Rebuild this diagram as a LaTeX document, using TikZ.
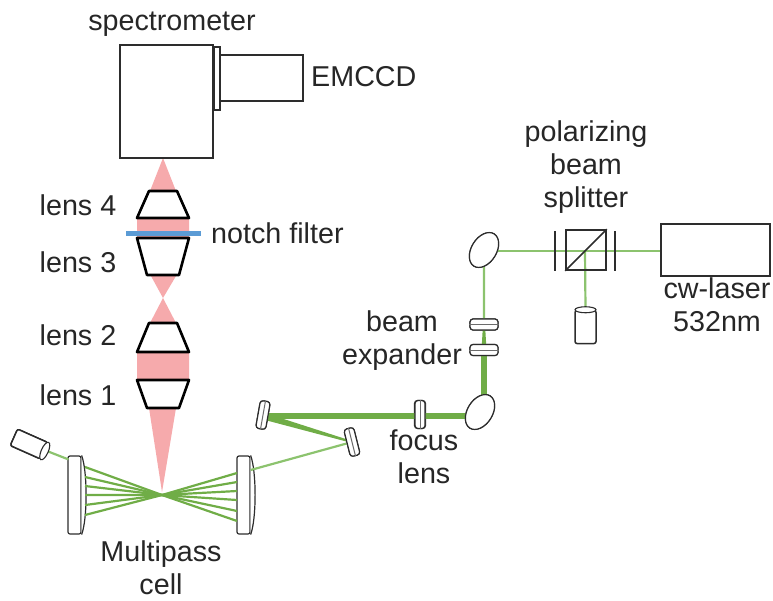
\documentclass[tikz,border=0pt]{standalone}
\usepackage{fontspec}
\setmainfont{Liberation Sans}
\usepackage{xcolor}
\usetikzlibrary{shapes.geometric}
\definecolor{beamgreen}{RGB}{112, 173, 71}
\definecolor{beamthin}{RGB}{140, 195, 110}
\definecolor{pinklight}{RGB}{246, 170, 172}
\definecolor{notchblue}{RGB}{91, 155, 213}
\definecolor{edgegray}{RGB}{45, 45, 45}

\begin{document}
\begin{tikzpicture}[
  x=1pt, y=-1pt,
  lbl/.style={font=\fontsize{28.7}{33}\selectfont, align=center, color=black!85, inner sep=0pt},
  box/.style={rectangle, draw=edgegray, line width=1.6pt, inner sep=0pt, fill=white},
  lensbody/.style={draw=black, fill=white, line width=2.6pt, line join=round},
  beam/.style={color=beamthin, line width=2.2pt},
  passbeam/.style={color=beamgreen, line width=2.2pt},
  fatbeam/.style={color=beamgreen, line width=6pt},
  mirror/.style={ellipse, draw=edgegray, line width=1.2pt, fill=white, inner sep=0pt,
                 minimum width=38pt, minimum height=25pt, rotate=58},
  optic/.style={rectangle, rounded corners=3pt, draw=edgegray, line width=1.2pt, fill=white, inner sep=0pt},
  foldlens/.style={optic, minimum width=10pt, minimum height=28pt},
  explens/.style={optic, minimum width=28pt, minimum height=11pt},
  cell/.style={rectangle, rounded corners=2pt, draw=edgegray, line width=1.2pt, fill=white, inner sep=0pt,
               minimum width=13pt, minimum height=78pt},
  cyl/.style={box, line width=1.5pt, rounded corners=2pt},
  capend/.style={ellipse, draw=edgegray, fill=white, line width=1.1pt, inner sep=0pt}
]
  \useasboundingbox (0,0) rectangle (773,600);

  % collected light
  \fill[pinklight] (163,158) -- (176,191) -- (189,218) -- (189,238) -- (180,275) -- (176,276)
    -- (163,298) -- (176,323) -- (189,352) -- (189,380) -- (176,408) -- (162,492)
    -- (149,408) -- (137,380) -- (137,352) -- (150,323) -- (163,298) -- (151,276) -- (147,275)
    -- (137,238) -- (137,218) -- (150,191) -- cycle;

  % multipass mirrors
  \node[cell] (cellL) at (74.5,495) {};
  \node[cell] (cellR) at (243.5,495) {};
  \foreach \nm in {cellL, cellR}
    \draw[edgegray, line width=1.2pt, fill=white] (\nm.north east) .. controls ([xshift=6pt,yshift=24pt]\nm.east) and ([xshift=6pt,yshift=-24pt]\nm.east) .. (\nm.south east);

  % passes through the focus
  \coordinate (focus) at (162,495);
  \foreach \i/\yl/\yr in {1/467/521, 2/477/511, 3/486/500, 4/495/491, 5/505/482, 6/515/473} {
    \coordinate (cl\i) at (85,\yl);
    \coordinate (cr\i) at (237,\yr);
    \draw[passbeam] (cl\i) -- (focus) -- (cr\i);
  }

  % optics at fixed places
  \coordinate (splitpt) at (585,251);
  \coordinate (hitlow) at (478,416);
  \node[mirror] (mirtop) at (484,250) {};
  \node[mirror] (mirlow) at (480,412) {};
  \node[foldlens, rotate=-10] (foldA) at (263,415) {};
  \node[foldlens, rotate=14] (foldB) at (352,442) {};
  \node[foldlens, minimum width=11pt] (focuslens) at (420,414.5) {};
  \node[explens] (expA) at (484,324.5) {};
  \node[explens] (expB) at (484,350) {};
  \node[box, minimum width=109pt, minimum height=52pt] (laser) at (715.5,250) {};
  \node[cyl, minimum width=33pt, minimum height=18pt, rotate=-24] (detector) at (29,444) {};
  \node[cyl, minimum width=21pt, minimum height=33pt] (dump) at (585.5,327) {};

  % beams
  \draw[beam] (laser.west |- splitpt) -- (mirtop.center |- splitpt);
  \draw[beam] (splitpt) -- (dump.north);
  \draw[beam] (mirtop) -- (expA);
  \fill[beamgreen] (expA.center) ++(-1,0) -- ++(2,0) -- ([xshift=2.5pt]expB.center) -- ([xshift=-2.5pt]expB.center) -- cycle;
  \draw[fatbeam] (expB.center) -- (expB.center |- mirlow);
  \draw[fatbeam] (hitlow) -- (hitlow -| foldA);
  \fill[beamgreen] (foldA.center) ++(2,-2) -- ++(0,7) -- ([yshift=-1pt]foldB.center) -- ([yshift=1pt]foldB.center) -- cycle;
  \draw[beam] (foldB) -- (cellR.east |- 0,470);
  \draw[beam] (cellL.north west) ++(1,4) -- (detector);

  % things that sit on top of the beams
  \node[mirror] at (mirlow) {};
  \node[mirror] at (mirtop) {};
  \foreach \nm/\ang in {foldA/-10, foldB/14, focuslens/0} {
    \node[foldlens, rotate=\ang] (\nm) at (\nm) {};
    \draw[edgegray!70, line width=1pt] (\nm.north) -- (\nm.south);
  }
  \foreach \nm in {expA, expB} {
    \node[explens] (\nm) at (\nm) {};
    \draw[edgegray!70, line width=1pt] (\nm.west) -- (\nm.east);
  }
  \node[cyl, minimum width=33pt, minimum height=18pt, rotate=-24] at (detector) {};
  \node[capend, minimum width=7pt, minimum height=19pt, rotate=-24] (detfront) at (detector.east) {};
  \node[capend, minimum width=21pt, minimum height=6pt] (dumptop) at (dump.north) {};

  % splitter
  \node[draw=edgegray, line width=1.6pt, minimum size=40pt, inner sep=0pt] (cube) at (586,250) {};
  \draw[edgegray, line width=1.6pt] (cube.south west) -- (cube.north east);
  \node[draw=edgegray, line width=0.8pt, fill=edgegray, minimum width=1pt, minimum height=39pt, inner sep=0pt] (plateL) at (555,250.5) {};
  \node[draw=edgegray, line width=0.8pt, fill=edgegray, minimum width=1pt, minimum height=39pt, inner sep=0pt] (plateR) at (615,250.5) {};

  % spectrometer
  \node[box, minimum width=93pt, minimum height=113pt] (spectro) at (166.5,101.5) {};
  \node[box, minimum width=83pt, minimum height=46pt] (ccd) at (261.5,78) {};
  \node[box, minimum width=6pt, minimum height=63pt] (flange) at (217,78.5) {};

  % lenses
  \foreach \ytop/\ybot/\wtop/\wbot in {191/218/14/26, 238/275/26/16, 323/352/14/26, 380/408/26/16} {
    \draw[lensbody] (163-\wtop,\ytop) -- (163+\wtop,\ytop) -- (163+\wbot,\ybot) -- (163-\wbot,\ybot) -- cycle;
  }
  \node[rectangle, fill=notchblue, minimum width=75pt, minimum height=5pt, inner sep=0pt] (notch) at (163.5,233) {};

  % labels
  \node[lbl] (tspec) at (172,24) {spectrometer};
  \node[lbl, anchor=west] (tccd) at (311,77) {EMCCD};
  \node[lbl] (tlensD) at (78,205) {lens 4};
  \node[lbl] (tlensC) at (78,262) {lens 3};
  \node[lbl] (tlensB) at (78,335) {lens 2};
  \node[lbl] (tlensA) at (78,395) {lens 1};
  \node[lbl, anchor=west] (tnotch) at (211,233) {notch filter};
  \node[lbl] (tpbs) at (586,167) {polarizing\\beam\\splitter};
  \node[lbl] (tlaser) at (717,305) {cw-laser\\532nm};
  \node[lbl] (texp) at (402,341) {beam\\expander};
  \node[lbl] (tfocus) at (424,457) {focus\\lens};
  \node[lbl] (tcell) at (161,568) {Multipass\\cell};
\end{tikzpicture}
\end{document}
